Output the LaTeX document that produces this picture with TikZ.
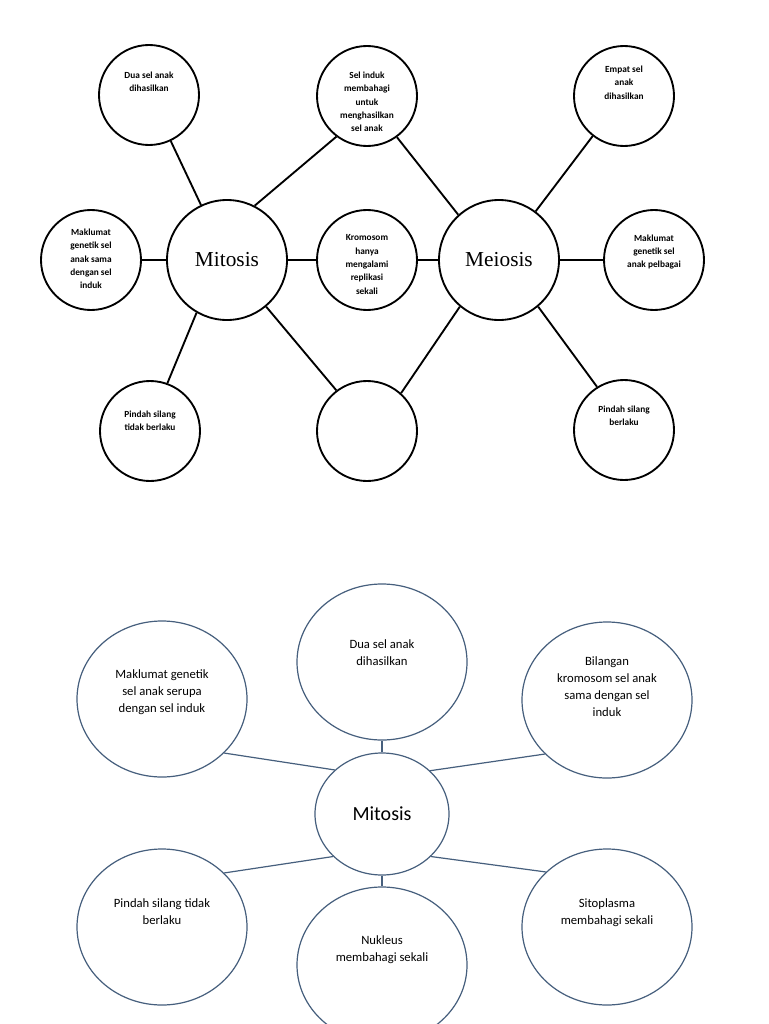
\documentclass[tikz,border=0pt]{standalone}
\usepackage{fontspec}
\setmainfont{Carlito}
\newfontfamily\timesfont{Liberation Serif}
\usetikzlibrary{positioning,shapes.geometric}
\definecolor{slate}{RGB}{70,95,125}
\tikzset{
  bubble/.style={draw=black,line width=1.4pt,circle,minimum size=75pt,inner sep=0pt},
  hub/.style={bubble,minimum size=90pt,font=\timesfont\fontsize{16}{18}\selectfont},
  tiny/.style={align=center,inner sep=0pt,font=\bfseries\fontsize{7}{10}\selectfont},
  link/.style={draw=black,line width=1.4pt},
  oval/.style={draw=slate,line width=0.9pt,ellipse,minimum width=127.5pt,minimum height=117pt,inner sep=0pt},
  core/.style={oval,minimum width=100.5pt,minimum height=91.5pt,font=\fontsize{15}{18}\selectfont},
  note/.style={align=center,inner sep=0pt,font=\fontsize{9.5}{12.75}\selectfont},
  spoke/.style={draw=slate,line width=0.9pt}
}
\begin{document}
\begin{tikzpicture}[x=0.75pt,y=-0.75pt]
  \useasboundingbox[fill=white] (0,0) rectangle (768,1024);
  % top: mitosis and meiosis
  \node[hub] (mit) at (227,260) {Mitosis};
  \node[hub] (mei) at (499,260) {Meiosis};
  \node[bubble] (dua) at (149,95) {};
  \node[bubble] (induk) at (367,96) {};
  \node[bubble] (empat) at (624,96) {};
  \node[bubble] (maksama) at (91,260) {};
  \node[bubble] (krom) at (367,260) {};
  \node[bubble] (makbagai) at (654,260) {};
  \node[bubble] (tidak) at (150,431) {};
  \node[bubble] (kosong) at (367,431) {};
  \node[bubble] (berlaku) at (624,430) {};
  \node[tiny,below=20.6pt of dua.north] (tdua) {Dua sel anak\\dihasilkan};
  \node[tiny,below=20pt of induk.north] (tinduk) {Sel induk\\membahagi\\untuk\\menghasilkan\\sel anak};
  \node[tiny,below=15.4pt of empat.north] (tempat) {Empat sel\\anak\\dihasilkan};
  \node[tiny,below=14.6pt of maksama.north] (tmaksama) {Maklumat\\genetik sel\\anak sama\\dengan sel\\induk};
  \node[tiny,below=19pt of krom.north] (tkrom) {Kromosom\\hanya\\mengalami\\replikasi\\sekali};
  \node[tiny,below=19pt of makbagai.north] (tmakbagai) {Maklumat\\genetik sel\\anak pelbagai};
  \node[tiny,below=23pt of tidak.north] (ttidak) {Pindah silang\\tidak berlaku};
  \node[tiny,below=20pt of berlaku.north] (tberlaku) {Pindah silang\\berlaku};
  \draw[link] (mit) -- (dua);
  \draw[link] (mit.63) -- (induk.233);
  \draw[link] (mit) -- (maksama);
  \draw[link] (mit) -- (krom);
  \draw[link] (mit.-120) -- (tidak.70);
  \draw[link] (mit.-50) -- (kosong.127);
  \draw[link] (mei.132) -- (induk.-54);
  \draw[link] (mei.53) -- (empat.232);
  \draw[link] (mei) -- (makbagai);
  \draw[link] (mei) -- (krom);
  \draw[link] (mei.230) -- (kosong.48);
  \draw[link] (mei.-50) -- (berlaku.122);
  % bottom: mitosis only
  \node[core] (mit2) at (382,814) {Mitosis};
  \node[oval] (dua2) at (382,662) {};
  \node[oval] (mak2) at (162,699) {};
  \node[oval] (bil2) at (607,700) {};
  \node[oval] (pin2) at (162,927) {};
  \node[oval] (sito2) at (607,927) {};
  \node[oval] (nuk2) at (382,965) {};
  \node[note,below=42pt of dua2.north] (tdua2) {Dua sel anak\\dihasilkan};
  \node[note,below=37pt of mak2.north] (tmak2) {Maklumat genetik\\sel anak serupa\\dengan sel induk};
  \node[note,below=26pt of bil2.north] (tbil2) {Bilangan\\kromosom sel anak\\sama dengan sel\\induk};
  \node[note,below=37.5pt of pin2.north] (tpin2) {Pindah silang tidak\\berlaku};
  \node[note,below=37.5pt of sito2.north] (tsito2) {Sitoplasma\\membahagi sekali};
  \node[note,below=37pt of nuk2.north] (tnuk2) {Nukleus\\membahagi sekali};
  \draw[spoke] (mit2) -- (dua2);
  \draw[spoke] (mit2) -- (nuk2);
  \draw[spoke] (mit2.137) -- (mak2.-41);
  \draw[spoke] (mit2.42) -- (bil2.221);
  \draw[spoke] (mit2.221) -- (pin2.41);
  \draw[spoke] (mit2.-41) -- (sito2.138);
\end{tikzpicture}
\end{document}
